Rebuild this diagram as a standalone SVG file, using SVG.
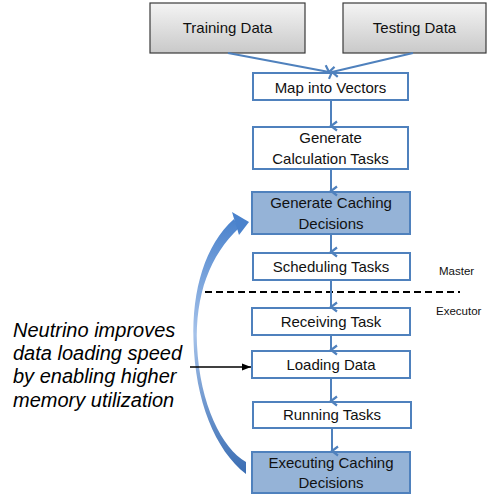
<svg xmlns="http://www.w3.org/2000/svg" width="487" height="494" viewBox="0 0 487 494">
<defs>
<linearGradient id="gray" x1="0" y1="0" x2="0" y2="1">
<stop offset="0" stop-color="#f4f4f4"/>
<stop offset="1" stop-color="#c9c9c9"/>
</linearGradient>
<linearGradient id="rib" x1="0" y1="0" x2="0" y2="1">
<stop offset="0" stop-color="#4a82cc"/>
<stop offset="0.45" stop-color="#a5c2ea"/>
<stop offset="1" stop-color="#3a6db3"/>
</linearGradient>
<marker id="ab" markerWidth="12" markerHeight="12" refX="6" refY="10" orient="auto" markerUnits="userSpaceOnUse" viewBox="0 0 12 12">
<path d="M1.5,4 L6,10 L10.5,4" fill="none" stroke="#4f81bd" stroke-width="2.2"/>
</marker>
<marker id="ak" markerWidth="10" markerHeight="10" refX="9" refY="5" orient="auto" markerUnits="userSpaceOnUse" viewBox="0 0 10 10">
<path d="M0,1.5 L9,5 L0,8.5 Z" fill="#000"/>
</marker>
<style>
.g{fill:url(#gray);stroke:#3a3a3a;stroke-width:1.2}
.w{fill:#fff;stroke:#4f81bd;stroke-width:2}
.b{fill:#95b3d7;stroke:#4f81bd;stroke-width:2}
.t{font-family:"Liberation Sans",Arial,sans-serif;font-size:15px;fill:#111;text-anchor:middle}
.s{font-family:"Liberation Sans",Arial,sans-serif;font-size:11.5px;fill:#111}
.i{font-family:"Liberation Sans",Arial,sans-serif;font-size:20px;font-style:italic;fill:#000}
.c{stroke:#4f81bd;stroke-width:2;fill:none;marker-end:url(#ab)}
</style>
</defs>
<g id="training"><rect class="g" x="150" y="3" width="155" height="50"/><text class="t" x="227.5" y="33">Training Data</text></g>
<g id="testing"><rect class="g" x="343" y="3" width="143" height="50"/><text class="t" x="414.5" y="33">Testing Data</text></g>
<g id="map"><rect class="w" x="253" y="73" width="155" height="27"/><text class="t" x="330.5" y="93">Map into Vectors</text></g>
<g id="gencalc"><rect class="w" x="253" y="127" width="155" height="42"/><text class="t" x="330.5" y="143">Generate</text><text class="t" x="330.5" y="164">Calculation Tasks</text></g>
<g id="gencache"><rect class="b" x="252" y="192" width="158" height="42"/><text class="t" x="331" y="208">Generate Caching</text><text class="t" x="331" y="229">Decisions</text></g>
<g id="sched"><rect class="w" x="253" y="253" width="157" height="27"/><text class="t" x="331" y="272">Scheduling Tasks</text></g>
<g id="recv"><rect class="w" x="252" y="308" width="158" height="27"/><text class="t" x="331" y="327">Receiving Task</text></g>
<g id="load"><rect class="w" x="252" y="351" width="158" height="27"/><text class="t" x="331" y="370">Loading Data</text></g>
<g id="run"><rect class="w" x="253" y="402" width="158" height="26"/><text class="t" x="332" y="420">Running Tasks</text></g>
<g id="exec"><rect class="b" x="252" y="452" width="158" height="41"/><text class="t" x="331" y="468">Executing Caching</text><text class="t" x="331" y="488">Decisions</text></g>
<g id="labels">
<text class="s" x="439" y="275">Master</text>
<text class="s" x="436" y="315">Executor</text>
<text class="i" x="13" y="337">Neutrino improves</text>
<text class="i" x="13" y="360">data loading speed</text>
<text class="i" x="13" y="383">by enabling higher</text>
<text class="i" x="13" y="407">memory utilization</text>
</g>
<line x1="205" y1="292" x2="460" y2="292" stroke="#000" stroke-width="2" stroke-dasharray="7,4"/>
<g id="connectors">
<line class="c" x1="228" y1="53" x2="329" y2="72"/>
<line class="c" x1="413" y1="53" x2="332" y2="72"/>
<line class="c" x1="331" y1="100" x2="331" y2="126"/>
<line class="c" x1="331" y1="169" x2="331" y2="191"/>
<line class="c" x1="331" y1="234" x2="331" y2="252"/>
<line class="c" x1="331" y1="280" x2="331" y2="307"/>
<line class="c" x1="331" y1="335" x2="331" y2="350"/>
<line class="c" x1="331" y1="378" x2="331" y2="401"/>
<line class="c" x1="332" y1="428" x2="332" y2="451"/>
<path d="M234,219 C205,245 192,290 193.5,340 C195,400 215,450 246,474 L246,462 C222,448 200,405 197,345 C195,295 210,255 239,228 Z" fill="url(#rib)"/>
<polygon points="232,212 249,222 239,235" fill="#4a82cc"/>
<line x1="190" y1="367" x2="251" y2="367" stroke="#000" stroke-width="1.5" marker-end="url(#ak)"/>
</g>
</svg>
